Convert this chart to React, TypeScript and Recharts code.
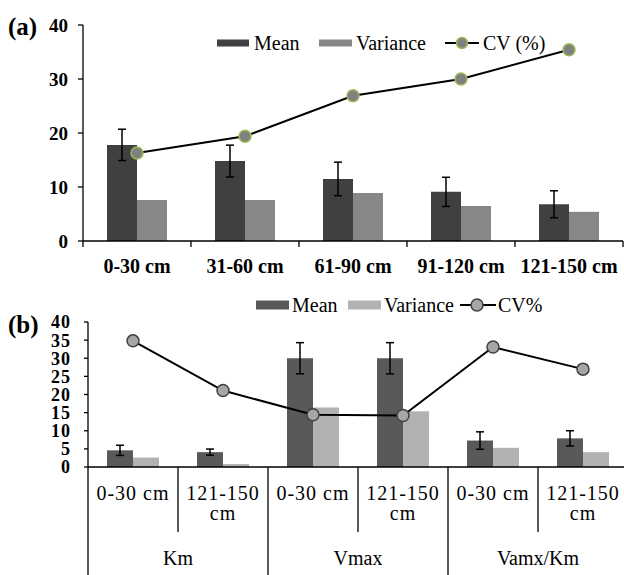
import React from "react";
import { ComposedChart, Bar, Line, XAxis, YAxis, ErrorBar } from "recharts";

const FONT = '"Liberation Serif", "Times New Roman", Times, serif';

// (a) soil depth profile
const depthLabels = ["0-30 cm", "31-60 cm", "61-90 cm", "91-120 cm", "121-150 cm"];
const depthMean = [17.8, 14.8, 11.5, 9.1, 6.8];
const depthMeanErr = [2.9, 2.95, 3.1, 2.7, 2.5];
const depthVariance = [7.6, 7.6, 8.9, 6.5, 5.4];
const depthCV = [16.3, 19.4, 26.9, 30.0, 35.4];
const depthTicks = [0, 10, 20, 30, 40];

// (b) kinetic parameters
const kinGroups = ["Km", "Km", "Vmax", "Vmax", "Vamx/Km", "Vamx/Km"];
const kinDepths = ["0-30 cm", "121-150 cm", "0-30 cm", "121-150 cm", "0-30 cm", "121-150 cm"];
const kinMean = [4.6, 4.1, 30.0, 30.0, 7.3, 7.9];
const kinMeanErr = [1.4, 0.85, 4.3, 4.3, 2.4, 2.1];
const kinVariance = [2.6, 0.8, 16.4, 15.4, 5.3, 4.1];
const kinCV = [34.8, 21.1, 14.4, 14.2, 33.1, 27.0];
const kinTicks = [0, 5, 10, 15, 20, 25, 30, 35, 40];

const depthData = depthLabels.map((label, i) => ({
  label,
  mean: depthMean[i],
  meanErr: depthMeanErr[i],
  variance: depthVariance[i],
  cv: depthCV[i],
}));

const kinData = kinDepths.map((depth, i) => ({
  key: `${kinGroups[i]}|${depth}`,
  mean: kinMean[i],
  meanErr: kinMeanErr[i],
  variance: kinVariance[i],
  cv: kinCV[i],
}));

// layout
const A_W = 624, A_H = 290, A_LEFT = 83, A_RIGHT = 1;
const B_W = 630, B_H = 285, B_LEFT = 88, B_RIGHT = 2;
const bandA = (A_W - A_LEFT - A_RIGHT) / depthLabels.length;
const bandB = (B_W - B_LEFT - B_RIGHT) / kinDepths.length;

const serif = { fontFamily: FONT };
const serifBold = { fontFamily: FONT, fontWeight: "bold" as const };

function DepthTick(props: any) {
  const { x, y, payload, index } = props;
  const h = bandA / 2;
  return (
    <g>
      {index === 0 && <line x1={x - h} y1={y} x2={x - h} y2={y + 6} stroke="#000" strokeWidth={1.3} />}
      <line x1={x + h} y1={y} x2={x + h} y2={y + 6} stroke="#000" strokeWidth={1.3} />
      <text x={x} y={y + 25} dy="0.35em" textAnchor="middle" style={serifBold} fontSize={20} fill="#000">
        {payload.value}
      </text>
    </g>
  );
}

function KinTick(props: any) {
  const { x, y, index } = props;
  const h = bandB / 2;
  const depth = kinDepths[index];
  const lines = depth.length > 8 ? depth.split(" ") : [depth];
  const groupEnd = index === kinGroups.length - 1 || kinGroups[index + 1] !== kinGroups[index];
  const groupStart = index === 0 || kinGroups[index - 1] !== kinGroups[index];
  return (
    <g>
      {index === 0 && <line x1={x - h} y1={y} x2={x - h} y2={y + 110} stroke="#000" strokeWidth={1.3} />}
      <line x1={x + h} y1={y} x2={x + h} y2={y + (groupEnd ? 110 : 65)} stroke="#000" strokeWidth={1.3} />
      {lines.map((t, i) => (
        <text key={i} x={x} y={y + 26 + i * 20} dy="0.35em" textAnchor="middle" style={serif} fontSize={20} letterSpacing={1} fill="#000">
          {t}
        </text>
      ))}
      {!groupStart && (
        <text x={x - h} y={y + 91} dy="0.35em" textAnchor="middle" style={serif} fontSize={20} fill="#000">
          {kinGroups[index]}
        </text>
      )}
    </g>
  );
}

function Overlay() {
  const txt = { style: serif, fontSize: 20, fill: "#000" };
  return (
    <svg width={624} height={575} style={{ position: "absolute", left: 0, top: 0, pointerEvents: "none" }}>
      <text x={8} y={35} style={serifBold} fontSize={25}>(a)</text>
      <text x={8} y={333} style={serifBold} fontSize={25}>(b)</text>

      <rect x={217} y={39.5} width={32} height={7} fill="#404040" />
      <text x={254} y={43} dy="0.35em" {...txt}>Mean</text>
      <rect x={319} y={39.5} width={33} height={7} fill="#878787" />
      <text x={356} y={43} dy="0.35em" {...txt}>Variance</text>
      <line x1={445} y1={43} x2={479} y2={43} stroke="#000" strokeWidth={2} />
      <circle cx={462} cy={43} r={5.5} fill="#808080" stroke="#9bbb59" strokeWidth={1.5} />
      <text x={483} y={43} dy="0.35em" {...txt}>CV (%)</text>

      <rect x={256} y={300.5} width={33} height={9} fill="#595959" />
      <text x={292} y={305} dy="0.35em" {...txt}>Mean</text>
      <rect x={348} y={300.5} width={33} height={9} fill="#b2b2b2" />
      <text x={384} y={305} dy="0.35em" {...txt}>Variance</text>
      <line x1={460} y1={305} x2={496} y2={305} stroke="#000" strokeWidth={2} />
      <circle cx={477} cy={305} r={6} fill="#a6a6a6" stroke="#404040" strokeWidth={1.5} />
      <text x={498} y={305} dy="0.35em" {...txt}>CV%</text>
    </svg>
  );
}

export default function App() {
  return (
    <div style={{ position: "absolute", left: 0, top: 0, width: 624, height: 575, background: "#fff", overflow: "hidden", fontFamily: FONT }}>
      <div style={{ position: "absolute", left: 0, top: 0 }}>
        <ComposedChart width={A_W} height={A_H} data={depthData} barGap={0} margin={{ top: 25, right: A_RIGHT, bottom: 0, left: 0 }}>
          <XAxis dataKey="label" height={49} interval={0} tickLine={false} tickSize={0} tickMargin={0}
            axisLine={{ stroke: "#000", strokeWidth: 1.3 }} tick={<DepthTick />} />
          <YAxis width={A_LEFT} domain={[0, 40]} ticks={depthTicks} interval={0} tickSize={5} tickMargin={10}
            axisLine={{ stroke: "#000", strokeWidth: 1.3 }} tickLine={{ stroke: "#000", strokeWidth: 1.3 }}
            tick={{ style: serifBold, fontWeight: "bold", fontSize: 19, fill: "#000" }} />
          <Bar dataKey="mean" fill="#404040" barSize={30} isAnimationActive={false}>
            <ErrorBar dataKey="meanErr" width={4} stroke="#000" strokeWidth={1.5} direction="y" />
          </Bar>
          <Bar dataKey="variance" fill="#878787" barSize={30} isAnimationActive={false} />
          <Line dataKey="cv" type="linear" stroke="#000" strokeWidth={2}
            dot={{ r: 6, fill: "#808080", stroke: "#9bbb59", strokeWidth: 1.5 }} isAnimationActive={false} />
        </ComposedChart>
      </div>
      <div style={{ position: "absolute", left: 0, top: 290, width: 624, overflow: "hidden" }}>
        <ComposedChart width={B_W} height={B_H} data={kinData} barGap={0} margin={{ top: 32, right: B_RIGHT, bottom: 0, left: 0 }}>
          <XAxis dataKey="key" height={108} interval={0} tickLine={false} tickSize={0} tickMargin={0}
            axisLine={{ stroke: "#000", strokeWidth: 1.3 }} tick={<KinTick />} />
          <YAxis width={B_LEFT} domain={[0, 40]} ticks={kinTicks} interval={0} tickSize={4} tickMargin={13}
            axisLine={{ stroke: "#000", strokeWidth: 1.3 }} tickLine={{ stroke: "#000", strokeWidth: 1.3 }}
            tick={{ style: serifBold, fontWeight: "bold", fontSize: 18, fill: "#000", letterSpacing: 1 }} />
          <Bar dataKey="mean" fill="#595959" barSize={26} isAnimationActive={false}>
            <ErrorBar dataKey="meanErr" width={4} stroke="#000" strokeWidth={1.5} direction="y" />
          </Bar>
          <Bar dataKey="variance" fill="#b2b2b2" barSize={26} isAnimationActive={false} />
          <Line dataKey="cv" type="linear" stroke="#000" strokeWidth={2}
            dot={{ r: 6, fill: "#a6a6a6", stroke: "#404040", strokeWidth: 1.5 }} isAnimationActive={false} />
        </ComposedChart>
      </div>
      <Overlay />
    </div>
  );
}
